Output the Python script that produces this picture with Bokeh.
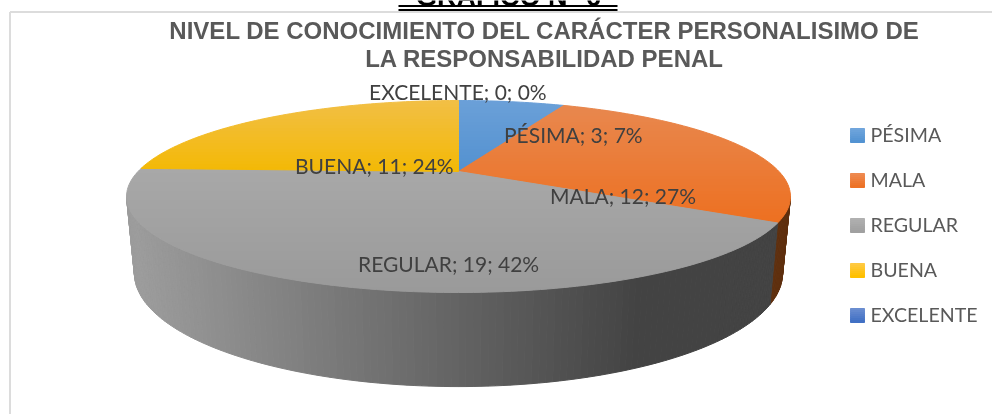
import math
from bokeh.plotting import figure
from bokeh.models import Range1d
from bokeh.core.properties import value
from bokeh.embed import file_html
from bokeh.resources import INLINE

# ---- data ----
categories = ["PÉSIMA", "MALA", "REGULAR", "BUENA", "EXCELENTE"]
values = [3, 12, 19, 11, 0]
percents = ["7%", "27%", "42%", "24%", "0%"]
title_lines = ["NIVEL DE CONOCIMIENTO DEL CARÁCTER PERSONALISIMO DE", "LA RESPONSABILIDAD PENAL"]
header = "GRÁFICO N° 6"

# ---- styles ----
top_grad = [("#6ba0d8", "#5391d0", 100, 172), ("#e8884f", "#ed7021", 104, 222),
            ("#a8a8a8", "#9a9a9a", 168, 292), ("#f2bf46", "#f3b906", 100, 170),
            ("#4472c4", "#4472c4", 100, 170)]
legend_grad = [("#70a5dc", "#5393d2"), ("#ee8a50", "#ed7226"), ("#b0b0b0", "#a0a0a0"),
               ("#ffc942", "#ffc000"), ("#6a8dd0", "#4170c4")]
title_color, label_color, legend_color = "#595959", "#404040", "#595959"
label_pos = [(503.5, 142), (549.5, 203), (357.5, 271), (294.5, 173), (368.5, 99)]
legend_y = [142, 187, 232, 277, 322]
TEXT_DY = -8

# ---- perspective pie geometry ----
CX, K = 458, 0.2604
TOP = dict(a=320.5, b=89.5, y0=171)
BOT = dict(a=312.9, b=105.6, y0=243.3)

def rim(theta, g):
    r = math.radians(theta)
    d = 1 + K * math.cos(r)
    return CX + g["a"] * math.sin(r) / d, g["y0"] - g["b"] * math.cos(r) / d

def hex2rgb(h):
    return [int(h[i:i + 2], 16) for i in (1, 3, 5)]

def mix(c1, c2, t):
    t = max(0, min(1, t))
    a, b = hex2rgb(c1), hex2rgb(c2)
    return "#%02x%02x%02x" % tuple(round(a[i] + (b[i] - a[i]) * t) for i in range(3))

def clip(poly, y, keep_below):
    out = []
    inside = (lambda p: p[1] >= y) if keep_below else (lambda p: p[1] <= y)
    for i, p in enumerate(poly):
        q = poly[(i + 1) % len(poly)]
        if inside(p):
            out.append(p)
        if inside(p) != inside(q):
            t = (y - p[1]) / (q[1] - p[1])
            out.append((p[0] + t * (q[0] - p[0]), y))
    return out

total = sum(values)
bounds = [0]
for v in values:
    bounds.append(bounds[-1] + v / total * 360)

xs, ys, fills = [], [], []
def add(poly, color):
    xs.append([p[0] for p in poly])
    ys.append([p[1] for p in poly])
    fills.append(color)

# walls
T1, T2 = math.degrees(math.acos(-K)), 360 - math.degrees(math.acos(-K))
for i in range(len(values)):
    s, e = max(bounds[i], T1), min(bounds[i + 1], T2)
    th = s
    while th < e - 1e-9:
        n = min(th + 1.0, e)
        xm = rim((th + n) / 2, TOP)[0]
        if i == 1:
            col = "#5f300f"
        elif i == 2:
            col = mix("#9c9c9c", "#434343", (135 - xm) / (135 - 640))
        else:
            col = "#444444"
        add([rim(th, TOP), rim(n, TOP), rim(n, BOT), rim(th, BOT)], col)
        th = n

# top face, in horizontal gradient bands
for i in range(len(values)):
    s, e = bounds[i], bounds[i + 1]
    if e - s <= 0:
        continue
    steps = max(2, int(e - s))
    poly = [(CX, TOP["y0"])] + [rim(s + (e - s) * j / steps, TOP) for j in range(steps + 1)]
    c1, c2, y1, y2 = top_grad[i]
    y = 98
    while y < 294:
        band = clip(clip(poly, y, True), y + 3, False)
        if len(band) >= 3:
            add(band, mix(c1, c2, (y + 1.5 - y1) / (y2 - y1)))
        y += 3

# legend keys
for i, yb in enumerate(legend_y):
    for j in range(7):
        add([(850, yb - 14 + 2 * j), (864, yb - 14 + 2 * j), (864, yb - 12 + 2 * j), (850, yb - 12 + 2 * j)],
            mix(legend_grad[i][0], legend_grad[i][1], j / 6))

p = figure(width=992, height=414, x_range=Range1d(0, 992), y_range=Range1d(414, 0),
           output_backend="svg", toolbar_location=None, min_border=0,
           styles={"position": "fixed", "left": "0px", "top": "0px"})
p.axis.visible = False
p.grid.visible = False
p.outline_line_color = None
p.background_fill_color = "white"

# chart frame and the clipped heading above it
p.segment([9.5, 9.5], [11.5, 11.5], [992, 9.5], [11.5, 414], line_color="#dcdcdc", line_width=2)
p.text([508], [4], text=[header], text_font=value("Liberation Sans"), text_font_style="bold", y_offset=TEXT_DY,
       text_font_size="27px", text_color="black", text_align="center", text_baseline="alphabetic")
p.quad(left=[398, 398], right=[617, 617], top=[4.5, 8.5], bottom=[6.5, 10.5], fill_color="black", line_color=None)

p.patches(xs, ys, fill_color=fills, line_color=fills, line_width=1)

p.text([544, 544], [38, 66], text=title_lines, text_font=value("Liberation Sans"), text_font_style="bold", y_offset=TEXT_DY,
       text_font_size="24px", text_color=title_color, text_align="center", text_baseline="alphabetic")

labels = [f"{c}; {v}; {q}" for c, v, q in zip(categories, values, percents)]
p.text([q[0] for q in label_pos], [q[1] for q in label_pos], text=labels, text_font=value("Lato"), y_offset=TEXT_DY,
       text_font_size="21px", text_color=label_color, text_align="left", text_baseline="alphabetic")
p.text([870] * 5, legend_y, text=categories, text_font=value("Lato"), text_font_size="19.6px", y_offset=TEXT_DY,
       text_color=legend_color, text_align="left", text_baseline="alphabetic")

open("out.html", "w").write(file_html(p, INLINE))
